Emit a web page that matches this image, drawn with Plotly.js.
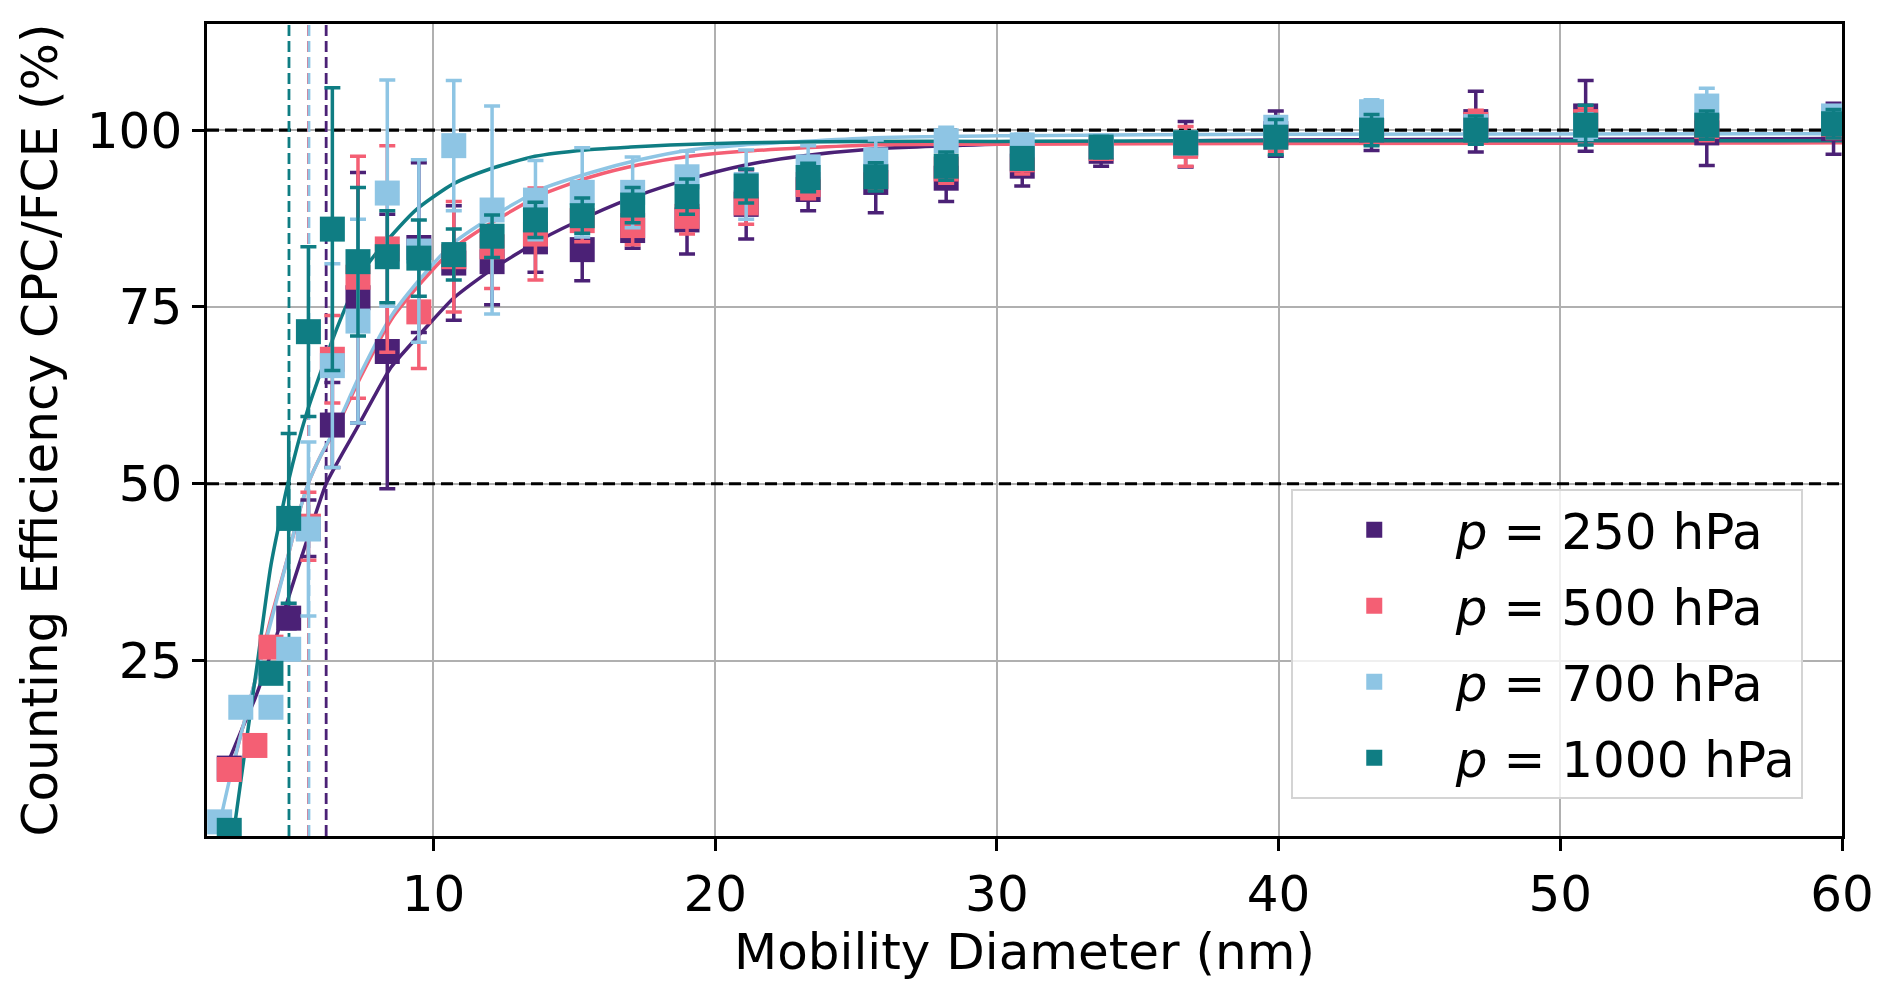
<!DOCTYPE html>
<html>
<head>
<meta charset="utf-8">
<script src="https://cdn.plot.ly/plotly-3.0.1.min.js"></script>
<style>
  html, body { margin: 0; padding: 0; background: #fff; }
  #myDiv { width: 1892px; height: 997px; }
</style>
</head>
<body>
<div id="myDiv"></div>
<script>
// mobility diameter bins (nm)
var diam = [2.41, 2.75, 3.16, 3.66, 4.23, 4.86, 5.56, 6.41, 7.32, 8.36, 9.48, 10.72, 12.08, 13.62, 15.28,
  17.07, 19.0, 21.1, 23.3, 25.7, 28.2, 30.9, 33.7, 36.7, 39.9, 43.3, 47.0, 50.9, 55.2, 59.7];

// counting efficiency (%) and error, per pressure
var eff250 = [null, 9.8, null, null, null, 31.0, 43.7, 58.3, 76.3, 68.7, 83.4, 81.2, 81.4, 84.2, 83.1,
  85.8, 87.3, 89.5, 91.6, 92.6, 93.2, 94.9, 97.0, 98.0, 99.5, 100.0, 101.2, 102.0, 99.6, 100.2];
var err250 = [0, 0.5, 0, 0, 0, 1.5, 4.0, 6.0, 17.7, 19.4, 12.0, 8.1, 6.1, 4.3, 4.4,
  2.5, 4.8, 4.9, 3.0, 4.3, 3.3, 2.8, 2.1, 3.2, 3.2, 2.9, 4.3, 5.0, 4.6, 3.6];

var eff500 = [null, 9.6, null, 13.0, 26.9, null, 44.0, 67.6, 79.2, 83.2, 74.3, 82.1, 83.5, 85.3, 87.2,
  86.5, 87.8, 89.7, 92.3, 93.5, 94.5, 95.8, 97.4, 97.7, 99.0, 100.0, 100.8, 101.2, 100.5, 100.8];
var err500 = [0, 0.5, 0, 0.5, 0.5, 0, 4.8, 6.2, 17.1, 14.6, 8.0, 7.8, 5.9, 6.5, 3.0,
  2.7, 2.5, 3.0, 2.0, 2.0, 2.0, 2.0, 1.5, 2.8, 2.0, 2.0, 2.0, 2.0, 2.0, 2.0];

var eff700 = [2.2, null, 18.4, null, 18.4, 26.6, 43.6, 66.7, 73.0, 91.1, 82.9, 97.8, 88.7, 90.1, 91.2,
  91.2, 93.4, 92.3, 94.8, 95.8, 98.5, 97.9, 97.8, 98.2, 100.4, 102.6, 100.5, 100.5, 103.4, 102.0];
var err700 = [0.5, 0, 0.5, 0, 0.5, 0.5, 12.3, 14.4, 14.4, 16.0, 12.9, 9.2, 14.7, 5.6, 6.3,
  5.0, 3.6, 4.9, 3.0, 2.8, 1.9, 1.5, 1.0, 1.5, 1.5, 1.7, 1.5, 1.8, 2.5, 1.4];

var eff1000 = [null, 1.0, null, null, 23.2, 45.1, 71.5, 86.0, 81.4, 82.1, 81.9, 82.4, 85.0, 87.3, 87.9,
  89.4, 90.6, 92.1, 93.3, 93.4, 94.9, 96.0, 97.6, 98.2, 99.0, 100.0, 100.0, 100.7, 100.7, 100.9];
var err1000 = [0, 0.5, 0, 0, 0.5, 12.0, 12.0, 20.0, 10.5, 6.5, 5.4, 3.6, 3.0, 2.5, 2.5,
  2.5, 2.5, 2.4, 2.0, 2.0, 2.0, 1.5, 1.5, 1.5, 2.5, 2.2, 2.0, 2.8, 2.0, 2.0];

// fitted curves
var fitX250 = [2.75, 3.2, 3.66, 4.23, 4.86, 5.55, 6.19, 6.8, 7.3, 7.85, 8.5, 9.6, 10.7, 12.0, 13.8,
  15.6, 17.3, 19.1, 21.0, 23.0, 25.5, 30, 35, 40, 50, 60];
var fitY250 = [11, 15.3, 19.6, 26, 34, 42.5, 50, 54.5, 58, 62, 66.5, 71.5, 76.2, 80.1, 84.5,
  88, 90.8, 93.1, 95.0, 96.3, 97.3, 98.0, 98.4, 98.6, 98.7, 98.8];
var fitX500 = [2.75, 3.16, 3.66, 4.23, 4.82, 5.2, 5.55, 6.0, 6.6, 7.4, 8.5, 9.6, 10.7, 11.9, 13.8,
  15.6, 17.3, 19.1, 21, 25.5, 30, 40, 60];
var fitY500 = [8, 14.5, 22, 31, 39.5, 45.5, 50, 54, 58.3, 65, 73.2, 78.6, 83.2, 86.5, 90.8,
  93.4, 95.1, 96.3, 97.0, 97.9, 98.0, 98.1, 98.2];
var fitX700 = [2.41, 2.75, 3.16, 3.66, 4.23, 4.82, 5.2, 5.55, 6.0, 6.6, 7.4, 8.5, 9.6, 10.7, 11.9,
  13.8, 15.6, 17.3, 19.1, 21, 25.5, 30, 40, 60];
var fitY700 = [2, 8, 14.5, 22, 30.5, 39.5, 45.5, 50, 54, 58.5, 65.5, 73.7, 79.3, 84, 87.3,
  91.6, 94.0, 95.8, 97.2, 97.9, 98.9, 99.2, 99.4, 99.5];
var fitX1000 = [2.9, 3.3, 3.76, 4.23, 4.83, 5.5, 6.4, 7.0, 7.7, 8.4, 9.4, 10.7, 12.0, 13.6, 15.4,
  17.0, 18.4, 21, 25, 30, 40, 60];
var fitY1000 = [0.5, 12, 25, 38.5, 50, 60, 70.2, 76, 81.2, 84.6, 88.8, 92.4, 94.5, 96.3, 97.2,
  97.6, 97.9, 98.2, 98.4, 98.4, 98.5, 98.5];

// 50 % cut-off diameters
var d50 = [6.19, 5.56, 5.58, 4.87];
// reference efficiency levels
var refLevels = [50, 100];

var xRange = [1.96, 60];
var yRange = [0.2, 115];

var labels = ['<i>p</i> = 250 hPa', '<i>p</i> = 500 hPa', '<i>p</i> = 700 hPa', '<i>p</i> = 1000 hPa'];
var colors = ['#4b2176', '#f45f74', '#8ec5e4', '#0f7d83'];

var effs = [eff250, eff500, eff700, eff1000];
var errs = [err250, err500, err700, err1000];
var fitXs = [fitX250, fitX500, fitX700, fitX1000];
var fitYs = [fitY250, fitY500, fitY700, fitY1000];

var data = [];

// dashed guide lines, drawn first so the markers sit on top
refLevels.forEach(function (v) {
  data.push({
    x: xRange, y: [v, v], type: 'scatter', mode: 'lines',
    line: {color: '#000', width: 3.2, dash: '12px,6px'},
    showlegend: false, hoverinfo: 'skip'
  });
});
for (var i = 0; i < 4; i++) {
  data.push({
    x: [d50[i], d50[i]], y: yRange, type: 'scatter', mode: 'lines',
    line: {color: colors[i], width: 2.8, dash: '11px,5px'},
    showlegend: false, hoverinfo: 'skip'
  });
}

for (var i = 0; i < 4; i++) {
  data.push({
    x: fitXs[i],
    y: fitYs[i],
    type: 'scatter',
    mode: 'lines',
    line: {color: colors[i], width: 3.5, shape: 'spline', smoothing: 0.6},
    showlegend: false,
    hoverinfo: 'skip'
  });
}
for (var i = 0; i < 4; i++) {
  data.push({
    x: diam,
    y: effs[i],
    type: 'scatter',
    mode: 'markers',
    name: labels[i],
    legendgroup: 'g' + i,
    marker: {symbol: 'square', size: 25, color: colors[i], line: {width: 0}},
    error_y: {type: 'data', array: errs[i], visible: true, color: colors[i], thickness: 3.5, width: 8}
  });
}

var font = 'DejaVu Sans, sans-serif';
var axisCommon = {
  showline: true,
  mirror: true,
  linecolor: '#000',
  linewidth: 2.5,
  ticks: 'outside',
  ticklen: 12,
  tickwidth: 2.5,
  tickcolor: '#000',
  showgrid: true,
  gridcolor: '#b0b0b0',
  gridwidth: 2,
  zeroline: false,
  tickfont: {family: font, size: 50, color: '#000'}
};

var layout = {
  width: 1892,
  height: 997,
  margin: {l: 207, r: 50, t: 24, b: 161},
  paper_bgcolor: '#fff',
  plot_bgcolor: '#fff',
  font: {family: font, size: 50, color: '#000'},
  xaxis: Object.assign({}, axisCommon, {
    range: xRange,
    tickvals: [10, 20, 30, 40, 50, 60],
    title: {text: 'Mobility Diameter (nm)', font: {family: font, size: 50}, standoff: 11}
  }),
  yaxis: Object.assign({}, axisCommon, {
    range: yRange,
    tickvals: [25, 50, 75, 100],
    title: {text: 'Counting Efficiency CPC/FCE (%)', font: {family: font, size: 50}, standoff: 14}
  }),
  legend: {
    x: 0.976, y: 0.046, xanchor: 'right', yanchor: 'bottom',
    bgcolor: 'rgba(255,255,255,0.8)',
    bordercolor: '#d4d4d4',
    borderwidth: 2,
    font: {family: font, size: 50, color: '#000'},
    tracegroupgap: 8,
    itemwidth: 153
  },
  showlegend: true
};

Plotly.newPlot('myDiv', data, layout, {displayModeBar: false});
</script>
</body>
</html>
